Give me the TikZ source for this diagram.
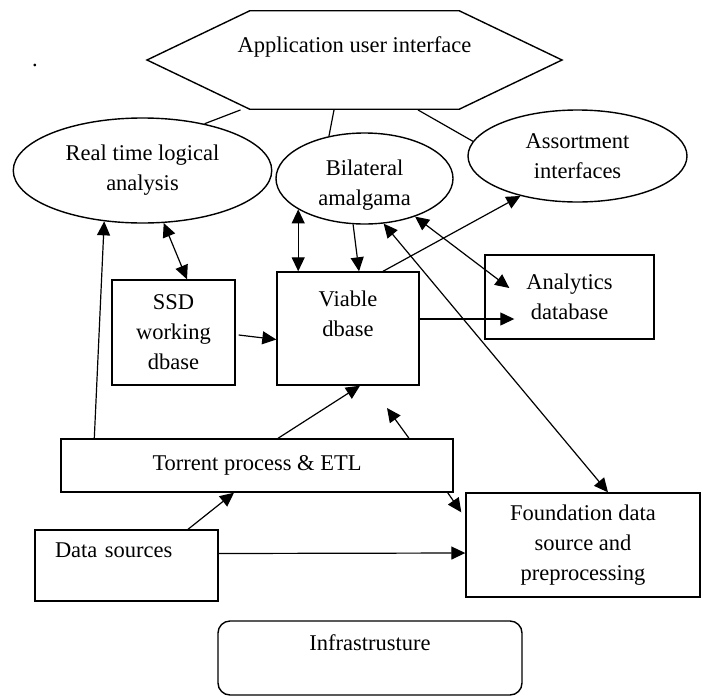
\documentclass[tikz,border=0pt]{standalone}
\usepackage{fontspec}
\setmainfont{Liberation Serif}
\usetikzlibrary{arrows.meta,positioning,shapes.geometric,shapes.symbols}

\begin{document}
\begin{tikzpicture}[x=1pt,y=-1pt,>={Triangle[length=14pt,width=13pt]}]
\tikzset{
 box/.style={draw,line width=1.4pt,align=center,font=\fontsize{22.5}{30}\selectfont,inner sep=0pt},
 oval/.style={box,ellipse},
 a/.style={->,line width=1.2pt},
 da/.style={<->,line width=1.2pt},
 ln/.style={line width=1.2pt}
}
\useasboundingbox (0,0) rectangle (703,696);
\node[box,signal,signal to=east and west,signal pointer angle=51.2,minimum width=415pt,minimum height=98.5pt,
  label={[font=\fontsize{22.5}{30}\selectfont,yshift=13pt]center:Application user interface}] (hex) at (354.5,60) {};
\node[anchor=base,inner sep=0pt,font=\fontsize{22.5}{30}\selectfont] (dot) at (35,66) {.};
\node[oval,minimum width=258.5pt,minimum height=105pt] (rt) at (142.5,170.5) {Real time logical\\analysis};
\node[oval,minimum width=177pt,minimum height=91pt] (bil) at (364.5,178.5) {\raisebox{-12pt}[0pt][0pt]{\parbox{100pt}{\centering Bilateral\\amalgama}}};
\node[oval,minimum width=219pt,minimum height=92pt] (ass) at (577.5,156) {Assortment\\interfaces};
\node[box,minimum width=123pt,minimum height=105pt] (ssd) at (173.5,332.5) {SSD\\working\\dbase};
\node[box,minimum width=142pt,minimum height=113pt] (via) at (348,328.5) {Viable\\dbase\\\mbox{}};
\node[box,minimum width=169pt,minimum height=84pt] (ana) at (569.5,297) {Analytics\\database};
\node[box,minimum width=392pt,minimum height=53pt] (tor) at (257,465.5) {Torrent process \& ETL};
\node[box,align=left,text width=143pt,inner xsep=20pt,minimum height=71pt] (dat) at (126.5,565.5) {Data sources\\\mbox{}};
\node[box,minimum width=234pt,minimum height=104pt] (fnd) at (583,545) {Foundation data\\source and\\preprocessing};
\node[box,rounded corners=12pt,minimum width=304pt,minimum height=74pt] (inf) at (370,658) {Infrastrusture\\\mbox{}};
\coordinate (gap) at (387,408);

% links from the interface
\foreach \dx/\t in {-114/rt.37,-20.5/bil.130,63.5/ass.172}{\draw[ln] ([xshift=\dx pt]hex.south)--(\t);}

\draw[a] ([xshift=34pt]tor.north west)--(rt.233);
\draw[da] (rt.292)--([xshift=13.5pt]ssd.north);
\draw[da] (bil.205)--(bil.205 |- via.north);
\draw[a] (bil.256)--([xshift=11pt]via.north);
\draw[da] (bil.293)--([xshift=25pt]fnd.north);
\draw[da] (bil.323)--([xshift=25pt,yshift=9pt]ana.west);
\draw[a] ([xshift=35pt]via.north)--(ass.215);
\draw[a] ([xshift=3pt,yshift=-2.5pt]ssd.east)--([yshift=-11pt]via.west);
\draw[a] ([yshift=9.5pt]via.east)--([xshift=30pt,yshift=-22pt]ana.west);
\draw[a] ([xshift=21pt]tor.north)--([xshift=12pt]via.south);
\draw[a] ([xshift=152pt]tor.north)--(gap);
\draw[a] ([xshift=61.5pt]dat.north)--([xshift=-23pt]tor.south);
\draw[a] ([yshift=12pt]dat.east)--([yshift=-8pt]fnd.west);
\draw[a] ([xshift=-6pt]tor.south east)--([xshift=-4pt,yshift=-20pt]fnd.north west);
\end{tikzpicture}
\end{document}
